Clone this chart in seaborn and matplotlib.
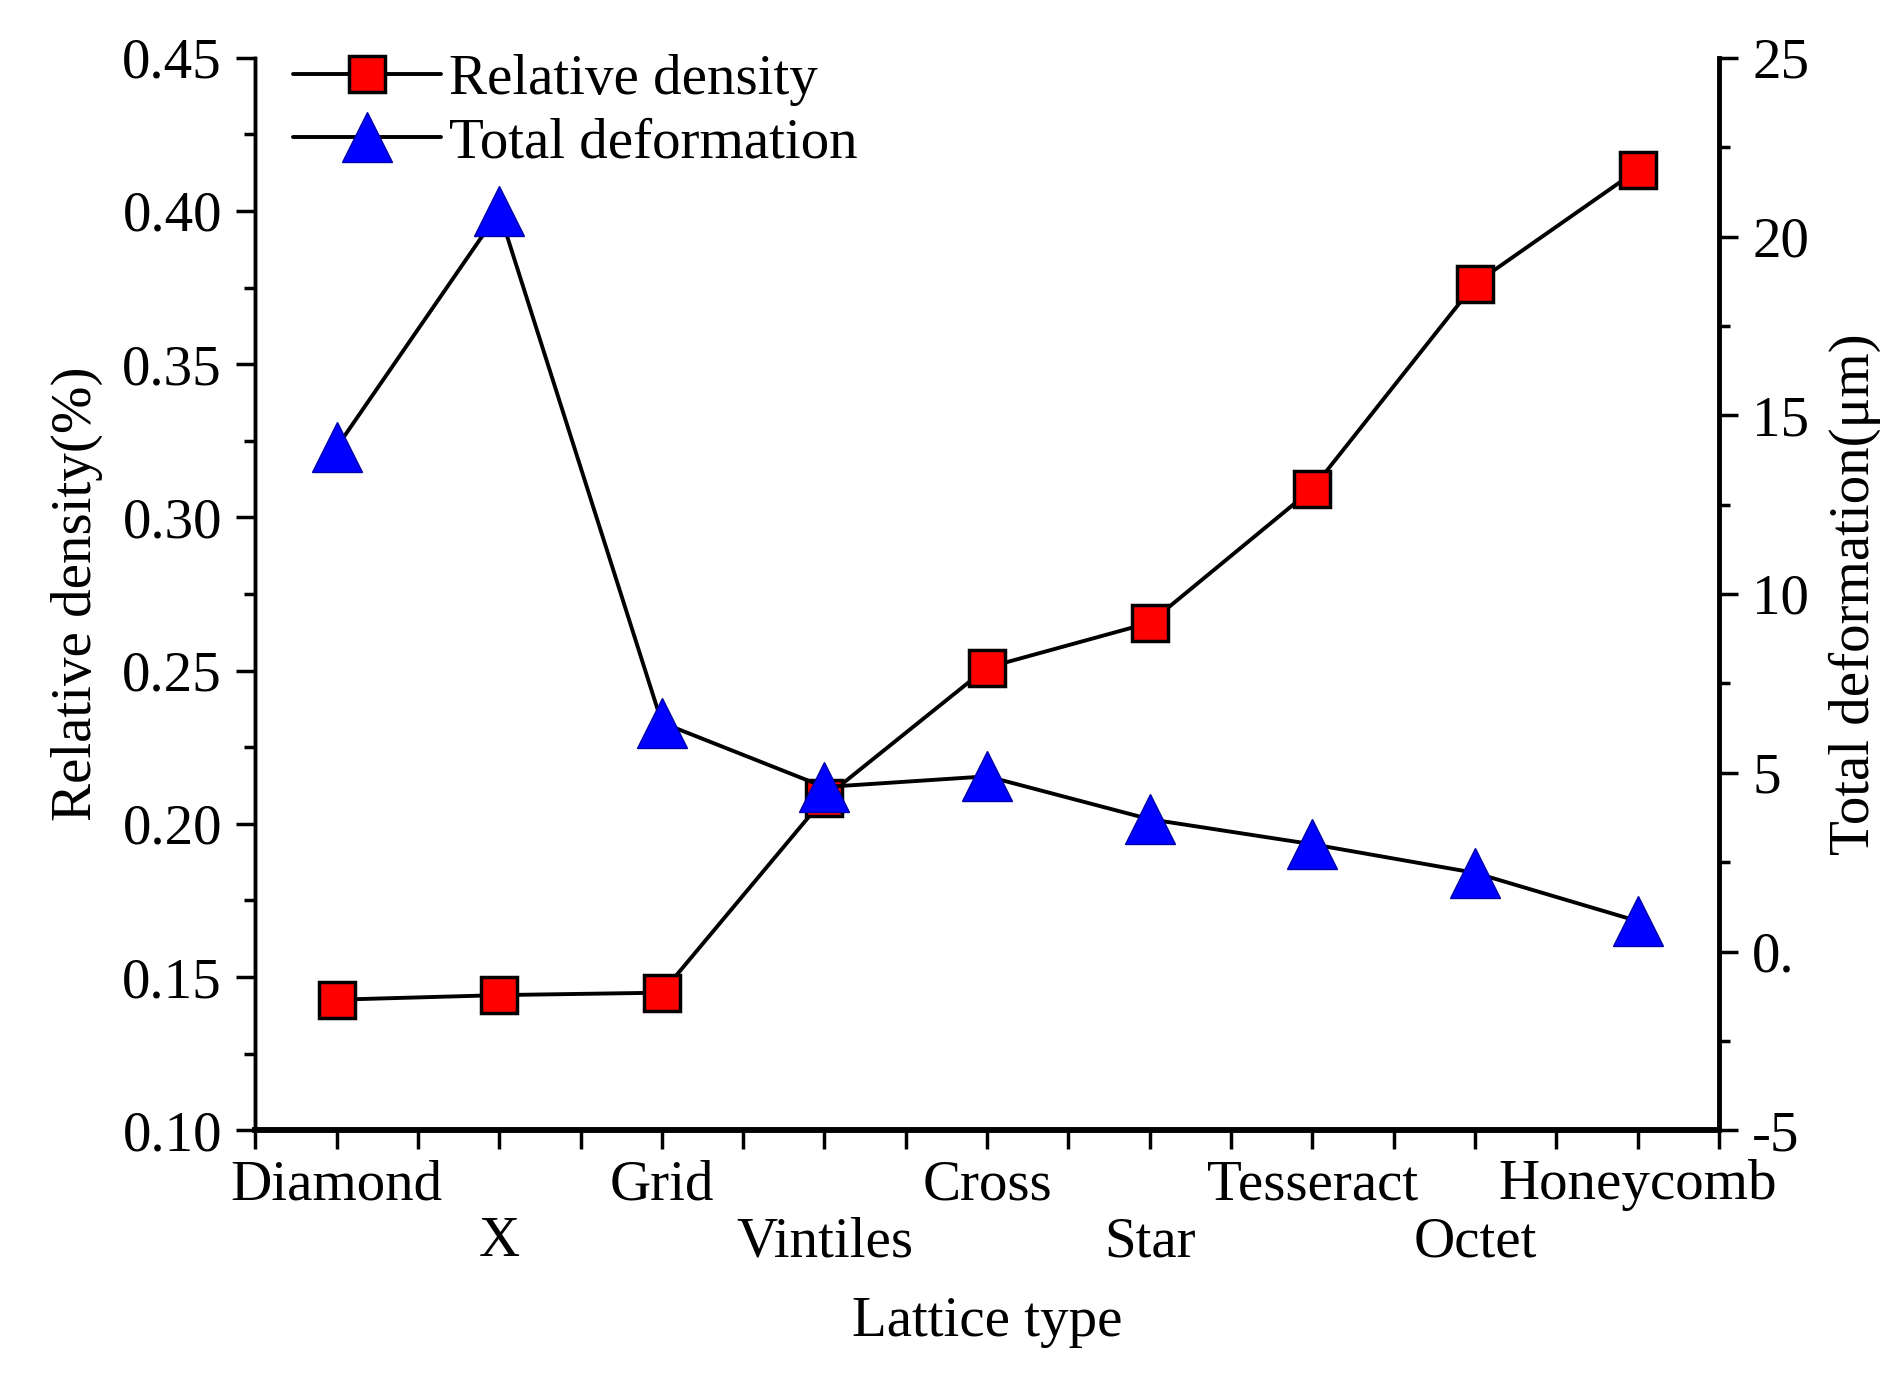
import pandas as pd
import seaborn as sns
import matplotlib.pyplot as plt
from matplotlib.ticker import MultipleLocator, FixedLocator

# Data
lattice = ['Diamond', 'X', 'Grid', 'Vintiles', 'Cross', 'Star', 'Tesseract', 'Octet', 'Honeycomb']
rel_density = [0.1426, 0.1441, 0.1449, 0.2084, 0.2510, 0.2656, 0.3093, 0.3763, 0.4134]
total_deform = [14.1, 20.7, 6.4, 4.6, 4.9, 3.7, 3.0, 2.2, 0.85]
right_ticks = [-5, 0, 5, 10, 15, 20, 25]
right_labels = ['-5', '0.', '5', '10', '15', '20', '25']

df = pd.DataFrame({'lattice': lattice, 'density': rel_density, 'deform': total_deform})

sns.set_theme(style='ticks')
plt.rcParams['font.family'] = ['Liberation Serif', 'DejaVu Serif']
plt.rcParams['text.color'] = 'black'
plt.rcParams['axes.labelcolor'] = 'black'

fig = plt.figure(figsize=(18.91, 13.75), dpi=100)
ax = fig.add_axes([0.135, 0.178, 0.774, 0.780])
ax2 = ax.twinx()

sns.lineplot(data=df, x='lattice', y='density', sort=False, ax=ax, color='black', lw=2.8,
             marker='s', markersize=26, markerfacecolor='#ff0000', markeredgecolor='black',
             markeredgewidth=2.5, label='Relative density', legend=False)
sns.lineplot(data=df, x='lattice', y='deform', sort=False, ax=ax2, color='black', lw=2.8,
             marker='^', markersize=36, markerfacecolor='#0000ff', markeredgecolor='#0000aa',
             markeredgewidth=1.0, label='Total deformation', legend=False)

ax.set_xlim(-0.5, len(lattice) - 0.5)
ax.set_ylim(0.10, 0.45)
ax2.set_ylim(-5, 25)

ax.set_yticks([0.10, 0.15, 0.20, 0.25, 0.30, 0.35, 0.40, 0.45])
ax.set_yticklabels(['0.10', '0.15', '0.20', '0.25', '0.30', '0.35', '0.40', '0.45'])
ax.yaxis.set_minor_locator(MultipleLocator(0.025))
ax2.set_yticks(right_ticks)
ax2.set_yticklabels(right_labels)
ax2.yaxis.set_minor_locator(MultipleLocator(2.5))

ax.set_xticks(range(len(lattice)))
ax.set_xticklabels(lattice)
ax.xaxis.set_minor_locator(FixedLocator([i + 0.5 for i in range(-1, len(lattice))]))

for a in (ax, ax2):
    a.tick_params(axis='both', which='major', labelsize=41, length=14, width=2.5,
                  direction='out', color='black', labelcolor='black', pad=10)
    a.tick_params(axis='both', which='minor', length=8, width=2.5, direction='out', color='black')
    for s in a.spines.values():
        s.set_color('black')
        s.set_linewidth(2.5)
ax.tick_params(axis='x', which='minor', length=14)
ax.tick_params(axis='x', which='major', pad=7)
# staggered category labels: odd ones on a second row
for i, tick in enumerate(ax.xaxis.get_major_ticks()):
    if i % 2 == 1:
        tick.set_pad(48)
ax.spines['bottom'].set_linewidth(4)
ax2.spines['bottom'].set_linewidth(4)
ax.spines['top'].set_visible(False)
ax2.spines['top'].set_visible(False)
ax2.spines['right'].set_linewidth(3.5)

ax.set_xlabel('Lattice type', fontsize=41, labelpad=20)
ax.set_ylabel('Relative density(%)', fontsize=41, labelpad=14)
ax2.set_ylabel('Total deformation(μm)', fontsize=41, labelpad=14)
ax.grid(False)
ax2.grid(False)

h1, l1 = ax.get_legend_handles_labels()
h2, l2 = ax2.get_legend_handles_labels()
ax.legend(h1 + h2, l1 + l2, loc='upper left', frameon=False, fontsize=41,
          handlelength=2.6, handletextpad=0.15, labelspacing=0.2,
          borderaxespad=0.0, bbox_to_anchor=(0.01, 1.025))

fig.savefig('out.png', dpi=100)
